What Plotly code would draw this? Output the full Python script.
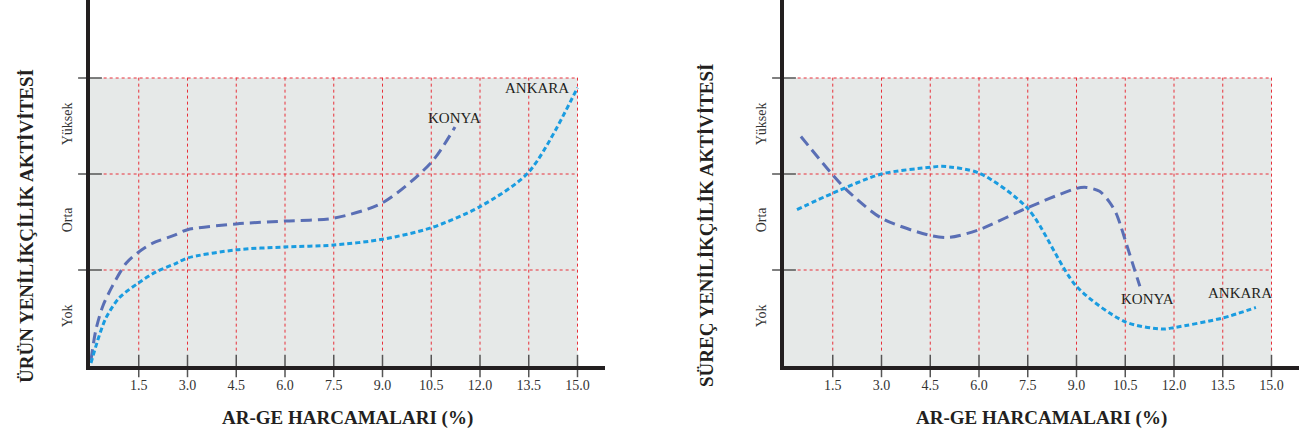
import plotly.graph_objects as go

# ---------------- data ----------------
x_ticks = [1.5, 3.0, 4.5, 6.0, 7.5, 9.0, 10.5, 12.0, 13.5, 15.0]
x_tick_labels = ["1.5", "3.0", "4.5", "6.0", "7.5", "9.0", "10.5", "12.0", "13.5", "15.0"]
y_band_lines = [1, 2, 3]
y_label_pos = [0.5, 1.5, 2.5]
y_labels = ["Yok", "Orta", "Yüksek"]

# Left panel: Ürün yenilikçilik
urun_konya_x = [0.03, 0.18, 0.39, 0.70, 1.11, 1.47, 1.93, 2.58, 3.0, 4.5, 6.0, 7.5, 9.0, 10.5, 11.23]
urun_konya_y = [0.06, 0.375, 0.62, 0.84, 1.07, 1.18, 1.28, 1.36, 1.42, 1.48, 1.51, 1.54, 1.70, 2.12, 2.49]
urun_ankara_x = [0.03, 0.24, 0.49, 0.9, 1.47, 2.03, 2.65, 3.0, 4.5, 6.0, 7.5, 9.0, 10.5, 12.0, 13.5, 15.0]
urun_ankara_y = [0.03, 0.27, 0.50, 0.71, 0.86, 0.98, 1.07, 1.125, 1.21, 1.24, 1.26, 1.32, 1.44, 1.66, 2.02, 2.90]

# Right panel: Süreç yenilikçilik
surec_konya_x = [0.52, 1.5, 1.94, 3.0, 4.5, 5.1, 6.0, 7.5, 9.0, 9.31, 9.71, 10.01, 10.22, 10.37, 10.5, 10.79, 10.95]
surec_konya_y = [2.39, 1.99, 1.83, 1.54, 1.36, 1.34, 1.42, 1.65, 1.85, 1.86, 1.82, 1.71, 1.59, 1.45, 1.31, 1.00, 0.83]
surec_ankara_x = [0.4, 1.5, 3.0, 4.5, 4.86, 6.0, 7.5, 9.0, 10.5, 11.66, 12.0, 13.5, 14.52]
surec_ankara_y = [1.63, 1.80, 2.00, 2.07, 2.08, 2.01, 1.64, 0.83, 0.46, 0.385, 0.40, 0.50, 0.61]

left_labels = {"KONYA": (11.2, 2.58), "ANKARA": (13.75, 2.90)}
right_labels = {"KONYA": (11.17, 0.70), "ANKARA": (14.03, 0.76)}

y_titles = ["ÜRÜN YENİLİKÇİLİK AKTİVİTESİ", "SÜREÇ YENİLİKÇİLİK AKTİVİTESİ"]
x_title = "AR-GE HARCAMALARI (%)"

# ---------------- style ----------------
W, H = 1299, 430
SERIF = "Liberation Serif, Times New Roman, serif"
KONYA_C = "#5a6fb5"
ANKARA_C = "#1a9ce0"
GRID_C = "#e8303a"
BG_C = "#e6e9e8"
AXIS_C = "#231f20"
TICK_C = "#555555"
PX_PER_UNIT_X = 32.5
PX_PER_UNIT_Y = 96.0
X_RANGE = [0, 515 / PX_PER_UNIT_X]
Y_RANGE = [0, 366 / PX_PER_UNIT_Y]
PLOT_H = H - 64

fig = go.Figure()

panels = [
    ("x", "y", urun_konya_x, urun_konya_y, urun_ankara_x, urun_ankara_y, left_labels),
    ("x2", "y2", surec_konya_x, surec_konya_y, surec_ankara_x, surec_ankara_y, right_labels),
]

shapes = []
annotations = []
for xa, ya, kx, ky, ax_, ay_, labs in panels:
    shapes.append(dict(type="rect", xref=xa, yref=ya, x0=0, x1=x_ticks[-1], y0=0, y1=y_band_lines[-1],
                       fillcolor=BG_C, line=dict(width=0), layer="below"))
    for yv in y_band_lines:
        shapes.append(dict(type="line", xref=xa, yref=ya, x0=0.42, x1=x_ticks[-1], y0=yv, y1=yv,
                           line=dict(color=GRID_C, width=1, dash="dot"), layer="below"))
    for xv in x_ticks:
        shapes.append(dict(type="line", xref=xa, yref=ya, x0=xv, x1=xv, y0=0.16, y1=y_band_lines[-1] + 0.03,
                           line=dict(color=GRID_C, width=1, dash="dot"), layer="below"))

    fig.add_trace(go.Scatter(x=kx, y=ky, xaxis=xa, yaxis=ya, mode="lines", name="KONYA",
                             line=dict(color=KONYA_C, width=3, dash="11px,6px", shape="spline", smoothing=0.8),
                             hoverinfo="skip", showlegend=False))
    fig.add_trace(go.Scatter(x=ax_, y=ay_, xaxis=xa, yaxis=ya, mode="lines", name="ANKARA",
                             line=dict(color=ANKARA_C, width=3, dash="5px,3px", shape="spline", smoothing=0.8),
                             hoverinfo="skip", showlegend=False))

    fig.add_trace(go.Scatter(x=x_ticks, y=[0] * len(x_ticks), xaxis=xa, yaxis=ya, mode="markers",
                             marker=dict(symbol="line-ns", size=16, line=dict(color=TICK_C, width=1.5)),
                             cliponaxis=False, hoverinfo="skip", showlegend=False))
    fig.add_trace(go.Scatter(x=[0] * len(y_band_lines), y=y_band_lines, xaxis=xa, yaxis=ya, mode="markers",
                             marker=dict(symbol="line-ew", size=17, line=dict(color=TICK_C, width=1.5)),
                             cliponaxis=False, hoverinfo="skip", showlegend=False))

    for name, (lx, ly) in labs.items():
        annotations.append(dict(xref=xa, yref=ya, x=lx, y=ly, text=name, showarrow=False,
                                xanchor="center", yanchor="middle",
                                font=dict(family=SERIF, size=15, color="#231f20")))

for xc, txt in [(26, y_titles[0]), (706, y_titles[1])]:
    annotations.append(dict(xref="paper", yref="paper", x=xc / W, y=(PLOT_H - 226) / PLOT_H,
                            xanchor="center", yanchor="middle",
                            text="<b>" + txt + "</b>", textangle=-90, showarrow=False,
                            font=dict(family=SERIF, size=19, color="#231f20")))
for xc in [347, 1041]:
    annotations.append(dict(xref="paper", yref="paper", x=xc / W, y=(PLOT_H - 418) / PLOT_H,
                            xanchor="center", yanchor="middle",
                            text="<b>" + x_title + "</b>", showarrow=False,
                            font=dict(family=SERIF, size=19, color="#231f20")))

xaxis_common = dict(range=X_RANGE, showgrid=False, zeroline=False, showline=True, linewidth=4,
                    linecolor=AXIS_C, tickvals=x_ticks, ticktext=x_tick_labels, ticks="",
                    ticklabelstandoff=3, tickfont=dict(family=SERIF, size=14, color="#333333"),
                    fixedrange=True)
yaxis_common = dict(range=Y_RANGE, showgrid=False, zeroline=False, showline=True, linewidth=4,
                    linecolor=AXIS_C, tickvals=y_label_pos, ticktext=y_labels, ticks="",
                    tickangle=-90, ticklabelstandoff=8,
                    tickfont=dict(family=SERIF, size=14, color="#333333"), fixedrange=True)

fig.update_layout(
    width=W, height=H,
    margin=dict(l=0, r=0, t=0, b=64, autoexpand=False),
    paper_bgcolor="white", plot_bgcolor="rgba(0,0,0,0)",
    xaxis=dict(domain=[90 / W, 605 / W], anchor="y", **xaxis_common),
    yaxis=dict(domain=[0, 1], anchor="x", **yaxis_common),
    xaxis2=dict(domain=[784 / W, 1.0], anchor="y2", **xaxis_common),
    yaxis2=dict(domain=[0, 1], anchor="x2", **yaxis_common),
    shapes=shapes,
    annotations=annotations,
    showlegend=False,
)

fig.write_html("out.html", config={"displayModeBar": False},
               post_script="document.body.style.margin='0';document.body.style.overflow='hidden';")
